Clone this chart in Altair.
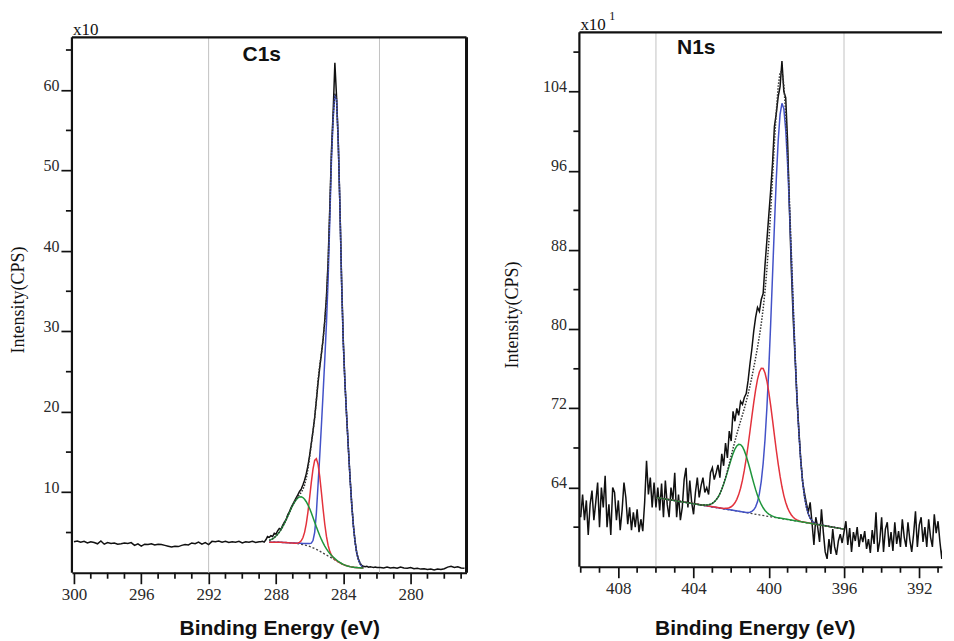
import altair as alt
import pandas as pd

SERIF = "Liberation Serif"
SANS = "Liberation Sans"


def grid(start, stop, step):
    n = int(round(abs(start - stop) / step)) + 1
    sgn = -1 if stop < start else 1
    return [round(start + sgn * i * step, 2) for i in range(n)]


# ---------------- C1s data ----------------
c1s_counts_flat = [3.85, 3.95, 3.8, 3.9, 3.7, 3.85, 3.75, 3.6, 3.95, 3.55,
                   3.75, 3.65, 3.7, 3.55, 3.6, 3.7, 3.65, 3.75, 3.4, 3.6,
                   3.3, 3.55, 3.5, 3.6, 3.45, 3.55, 3.5, 3.4, 3.3, 3.2,
                   3.3, 3.25, 3.4, 3.5, 3.45, 3.7, 3.6, 3.8, 3.55, 3.75,
                   3.5, 3.9, 3.85, 3.95, 3.8, 3.9, 3.75, 3.85, 3.8, 3.9,
                   3.7, 3.85, 3.8, 3.9, 3.75, 3.85]
c1s_counts_peak = [3.85, 3.9, 3.8, 4.1, 4.5, 4.4, 4.6, 4.5, 4.9, 4.8,
                   5.2, 5.5, 5.4, 5.9, 6.3, 6.6, 7.2, 7.6, 8.1, 8.5,
                   8.9, 9.3, 9.7, 10.1, 10.4, 10.9, 11.5, 12.3, 13.3, 14.6,
                   16.1, 17.6, 19.3, 21.4, 23.6, 25.5, 27.2, 29.0, 31.4, 34.3,
                   38.8, 45.5, 52.6, 57.4, 63.4, 59.2, 53.8, 45.6, 36.4, 28.9,
                   23.6, 19.4, 15.6, 11.9, 8.6, 5.9, 3.9, 2.5, 1.7, 1.2,
                   0.9, 0.8, 0.75, 0.8, 0.7, 0.75, 0.7, 0.65, 0.7, 0.65]
c1s_counts_tail = [0.65, 0.6, 0.7, 0.6, 0.65, 0.55, 0.7, 0.6, 0.55, 0.65,
                   0.5, 0.55, 0.45, 0.5, 0.4, 0.45, 0.35, 0.45, 0.4, 0.5,
                   0.7, 0.8, 0.65, 0.75, 0.6, 0.55]
c1s_be = grid(300.0, 289.0, 0.2) + grid(288.9, 282.0, 0.1) + grid(281.8, 276.8, 0.2)
c1s_counts = c1s_counts_flat + c1s_counts_peak + c1s_counts_tail

c1s_fit_be = grid(288.4, 282.8, 0.1)
c1s_background = [3.8, 3.8, 3.8, 3.8, 3.8, 3.79, 3.79, 3.78, 3.77, 3.76,
                  3.75, 3.74, 3.72, 3.71, 3.69, 3.67, 3.64, 3.61, 3.58, 3.54,
                  3.5, 3.45, 3.4, 3.34, 3.28, 3.2, 3.1, 3.0, 2.9, 2.8,
                  2.68, 2.56, 2.44, 2.32, 2.2, 2.08, 1.96, 1.84, 1.72, 1.6,
                  1.47, 1.35, 1.23, 1.12, 1.02, 0.94, 0.87, 0.81, 0.76, 0.72,
                  0.69, 0.66, 0.64, 0.62, 0.61, 0.6, 0.6]
c1s_peak_blue = [3.8, 3.8, 3.8, 3.8, 3.8, 3.79, 3.79, 3.78, 3.77, 3.76,
                 3.75, 3.74, 3.73, 3.72, 3.71, 3.7, 3.69, 3.68, 3.67, 3.66,
                 3.65, 3.64, 3.63, 3.62, 3.62, 3.68, 4.0, 5.0, 7.4, 10.9,
                 14.5, 18.3, 22.3, 26.5, 31.0, 36.5, 44.0, 51.5, 56.5, 59.4,
                 58.8, 53.5, 45.5, 36.0, 28.5, 23.5, 19.5, 15.5, 11.8, 8.5,
                 5.8, 3.8, 2.4, 1.6, 1.1, 0.8, 0.65]
c1s_peak_red = [3.8, 3.8, 3.8, 3.8, 3.8, 3.79, 3.79, 3.78, 3.77, 3.76,
                3.75, 3.74, 3.72, 3.71, 3.69, 3.67, 3.67, 3.69, 3.77, 3.96,
                4.35, 5.02, 6.08, 7.54, 9.34, 11.23, 12.89, 13.96, 14.19, 13.49,
                11.98, 10.01, 7.92, 6.03, 4.51, 3.4, 2.65, 2.18, 1.87, 1.66,
                1.49, 1.35, 1.23, 1.12, 1.02, 0.94, 0.87, 0.81, 0.76, 0.72,
                0.69, 0.66, 0.64, 0.62, 0.61, 0.6, 0.6]
c1s_peak_green = [4.02, 4.11, 4.22, 4.37, 4.56, 4.78, 5.05, 5.36, 5.72, 6.13,
                  6.56, 7.03, 7.49, 7.96, 8.39, 8.77, 9.07, 9.30, 9.43, 9.44,
                  9.35, 9.14, 8.83, 8.44, 7.98, 7.45, 6.87, 6.29, 5.71, 5.17,
                  4.63, 4.14, 3.70, 3.31, 2.96, 2.65, 2.38, 2.15, 1.94, 1.75,
                  1.58, 1.42, 1.28, 1.15, 1.04, 0.95, 0.87, 0.81, 0.76, 0.72,
                  0.69, 0.66, 0.64, 0.62, 0.61, 0.6, 0.6]
c1s_envelope = [4.02, 4.11, 4.22, 4.37, 4.56, 4.78, 5.05, 5.36, 5.72, 6.13,
                6.56, 7.03, 7.5, 7.97, 8.41, 8.8, 9.15, 9.45, 9.71, 9.98,
                10.35, 10.9, 11.74, 12.92, 14.38, 15.96, 17.56, 19.25, 21.5, 23.96,
                25.75, 27.33, 29.04, 31.2, 34.07, 38.39, 45.11, 52.15, 56.87, 59.61,
                58.93, 53.57, 45.55, 36.03, 28.52, 23.51, 19.5, 15.5, 11.8, 8.5,
                5.8, 3.8, 2.4, 1.6, 1.1, 0.8, 0.65]
c1s_guides = [292.0, 281.85]
c1s_x_major = [300, 296, 292, 288, 284, 280]
c1s_x_minor = [299, 298, 297, 295, 294, 293, 291, 290, 289, 287, 286, 285,
               283, 282, 281, 279, 278, 277]
c1s_y_major = [10, 20, 30, 40, 50, 60]
c1s_y_minor = [5, 15, 25, 35, 45, 55, 65]

# ---------------- N1s data ----------------
n1s_counts_left = [61.0, 63.3, 60.7, 62.7, 59.2, 62.3, 63.7, 60.7, 62.5, 64.5,
                   60.0, 64.0, 62.0, 65.2, 60.0, 62.3, 59.2, 64.0, 63.5, 60.7,
                   62.7, 59.7, 61.7, 64.5, 63.0, 60.3, 62.0, 59.7, 61.5, 60.0,
                   61.8, 59.5, 60.8, 59.6, 62.5, 66.7, 63.3, 65.0, 62.0, 64.5]
n1s_counts_mid = [62.0, 64.0, 61.7, 64.4, 61.0, 64.7, 62.3, 61.0, 64.0, 62.7,
                  65.5, 61.0, 63.3, 60.7, 62.0, 64.8, 66.0, 62.0, 64.7, 62.5,
                  61.3, 63.5, 65.0, 63.0, 64.2, 65.0, 63.5, 64.0, 63.3, 65.5,
                  66.0, 64.8]
n1s_counts_peak = [65.5, 66.3, 65.0, 67.4, 66.2, 68.5, 67.0, 69.7, 68.7,
                   71.7, 70.7, 72.0, 71.3, 72.7, 72.4, 73.1, 73.5, 74.8, 76.5,
                   78.0, 79.8, 81.2, 82.2, 81.8, 83.0, 83.6, 86.5, 89.0, 91.5,
                   94.0, 96.8, 100.5, 101.8, 103.5, 104.5, 107.1, 104.0, 103.4, 99.0,
                   92.0, 86.0, 81.0, 77.0, 72.9, 69.8, 66.8, 64.6, 63.4, 62.4,
                   61.5, 62.5, 60.4, 58.2, 61.0]
n1s_counts_right = [60.0, 58.5, 61.8, 59.5, 57.5, 56.8, 58.8, 57.3, 59.8, 58.0,
                    57.2, 58.6, 59.3, 58.4, 59.5, 60.6, 58.2, 59.9, 57.5, 59.5,
                    58.6, 60.0, 58.0, 59.3, 58.5, 59.6, 57.8, 58.8, 57.4, 59.7,
                    58.3, 61.5, 57.5, 58.6, 61.0, 57.5, 59.8, 60.5, 58.0, 59.5,
                    57.6, 60.5, 58.3, 59.6, 58.0, 60.8, 59.0, 58.0, 60.5, 58.7,
                    57.5, 59.3, 61.6, 58.0, 60.2, 61.0, 58.5, 60.0, 58.0, 60.8,
                    59.0, 58.0, 61.3, 59.4, 60.6, 58.5, 56.8, 58.8, 60.2]
n1s_be = grid(410.0, 390.6, 0.1)
n1s_counts = n1s_counts_left + n1s_counts_mid + n1s_counts_peak + n1s_counts_right

n1s_bg_be = [406.0, 396.0]
n1s_background = [63.0, 59.8]
n1s_blue_be = [406.0] + grid(401.2, 397.4, 0.1) + [396.0]
n1s_peak_blue = [63.0,
                 61.49, 61.49, 61.51, 61.59, 61.75, 62.05, 62.56, 63.38, 64.63, 66.43,
                 68.86, 72.06, 75.97, 80.52, 85.48, 90.49, 95.17, 99.04, 101.7, 102.83,
                 102.29, 100.16, 96.67, 92.2, 87.19, 82.09, 77.29, 73.04, 69.5, 66.69,
                 64.57, 63.06, 62.03, 61.34, 60.91, 60.63, 60.46, 60.35, 60.29,
                 59.8]
n1s_red_be = [406.0] + grid(402.4, 398.3, 0.1) + [396.0]
n1s_peak_red = [63.0,
                61.89, 61.9, 61.91, 61.96, 62.06, 62.22, 62.46, 62.81, 63.29, 63.93,
                64.75, 65.76, 66.93, 68.25, 69.69, 71.16, 72.59, 73.87, 74.93, 75.68,
                76.06, 76.03, 75.58, 74.77, 73.65, 72.3, 70.81, 69.27, 67.77, 66.39,
                65.15, 64.08, 63.19, 62.49, 61.95, 61.53, 61.23, 61.0, 60.84, 60.73,
                60.65, 60.58,
                59.8]
n1s_green_be = [406.0] + grid(403.6, 399.5, 0.1) + [396.0]
n1s_peak_green = [63.0,
                  62.25, 62.23, 62.23, 62.24, 62.26, 62.31, 62.41, 62.55, 62.76, 63.02,
                  63.38, 63.82, 64.34, 64.93, 65.56, 66.22, 66.85, 67.43, 67.89, 68.21,
                  68.37, 68.34, 68.12, 67.73, 67.2, 66.56, 65.87, 65.15, 64.45, 63.79,
                  63.21, 62.71, 62.29, 61.96, 61.68, 61.48, 61.32, 61.21, 61.12, 61.04,
                  60.98, 60.94,
                  59.8]
n1s_env_be = [406.0] + grid(403.6, 397.4, 0.1) + [396.0]
n1s_envelope = [63.0,
                62.25, 62.23, 62.23, 62.24, 62.26, 62.31, 62.41, 62.55, 62.76, 63.02,
                63.38, 63.82, 64.38, 65.01, 65.69, 66.43, 67.19, 67.96, 68.69, 69.4,
                70.07, 70.71, 71.34, 71.99, 72.7, 73.44, 74.27, 75.16, 76.11, 77.11,
                78.16, 79.29, 80.56, 82.06, 83.84, 86.09, 88.78, 91.93, 95.37, 98.84,
                102.02, 104.53, 105.96, 106.05, 104.66, 101.86, 97.86, 93.0, 87.72, 82.43,
                77.5, 73.17, 69.58, 66.73, 64.57, 63.06, 62.03, 61.34, 60.91, 60.63,
                60.46, 60.35, 60.29,
                59.8]
n1s_guides = [406.0, 396.0]
n1s_x_major = [408, 404, 400, 396, 392]
n1s_x_minor = [410, 409, 407, 406, 405, 403, 402, 401, 399, 398, 397, 395, 394, 393, 391]
n1s_y_major = [64, 72, 80, 88, 96, 104]
n1s_y_minor = [60, 68, 76, 84, 92, 100, 108]

assert len(c1s_be) == len(c1s_counts)
assert len(n1s_be) == len(n1s_counts)
for a, b in [(c1s_fit_be, c1s_background), (c1s_fit_be, c1s_peak_blue),
             (c1s_fit_be, c1s_peak_red), (c1s_fit_be, c1s_peak_green),
             (c1s_fit_be, c1s_envelope), (n1s_blue_be, n1s_peak_blue),
             (n1s_red_be, n1s_peak_red), (n1s_green_be, n1s_peak_green),
             (n1s_env_be, n1s_envelope)]:
    assert len(a) == len(b), (len(a), len(b))

BLUE = "#4352c8"
RED = "#e3323c"
GREEN = "#1f963c"
BLACK = "#111111"


def df(be, v):
    return pd.DataFrame({"be": be, "v": v})


def one(text):
    return pd.DataFrame({"t": [text]})


def make_panel(p):
    W, H, top = p["W"], p["H"], p["frame_top"]
    X = alt.X("be:Q",
              scale=alt.Scale(domain=p["xdom"], reverse=True, nice=False, zero=False),
              axis=alt.Axis(values=p["xmaj"], format="d", title=None, grid=False,
                            labelFont=SERIF, labelFontSize=17, labelColor="#2a2a2a",
                            tickSize=11, tickWidth=1.7, tickColor=BLACK,
                            domainColor=BLACK, domainWidth=2.2, labelPadding=3,
                            labelFlush=False, labelOverlap=False))
    Y = alt.Y("v:Q",
              scale=alt.Scale(domain=p["ydom"], nice=False, zero=False),
              axis=alt.Axis(values=p["ymaj"], title=None, grid=False, domain=False,
                            labelFont=SERIF, labelFontSize=16, labelColor="#2a2a2a",
                            labelAlign="right", labelBaseline="alphabetic",
                            tickSize=11, tickWidth=1.7, tickColor=BLACK,
                            labelPadding=2, labelFlush=False, labelOverlap=False))

    layers = []
    layers.append(alt.Chart(pd.DataFrame({"be": p["guides"]})).mark_rule(
        color="#c2c2c2", strokeWidth=1).encode(x=X, y=alt.value(top), y2=alt.value(H)))
    layers.append(alt.Chart(df(p["be"], p["counts"])).mark_line(
        color=BLACK, strokeWidth=1.5, clip=True).encode(x=X, y=Y))
    layers.append(alt.Chart(df(p["bg_be"], p["bg"])).mark_line(
        color="#444", strokeWidth=1.3, strokeDash=[2, 2], clip=True).encode(x=X, y=Y))
    for be, vals, col in p["peaks"]:
        layers.append(alt.Chart(df(be, vals)).mark_line(
            color=col, strokeWidth=1.5, clip=True).encode(x=X, y=Y))
    layers.append(alt.Chart(df(p["env_be"], p["env"])).mark_line(
        color="#333", strokeWidth=1.5, strokeDash=[1.5, 1.5], clip=True).encode(x=X, y=Y))
    # minor ticks
    layers.append(alt.Chart(pd.DataFrame({"be": p["xmin"]})).mark_rule(
        color=BLACK, strokeWidth=1.7).encode(x=X, y=alt.value(H), y2=alt.value(H + 6)))
    layers.append(alt.Chart(pd.DataFrame({"v": p["ymin"]})).mark_rule(
        color=BLACK, strokeWidth=1.7).encode(y=Y, x=alt.value(0), x2=alt.value(-6)))
    # frame
    layers.append(alt.Chart(one("")).mark_rule(color=BLACK, strokeWidth=2.2).encode(
        x=alt.value(0), x2=alt.value(W), y=alt.value(top)))
    layers.append(alt.Chart(one("")).mark_rule(color=BLACK, strokeWidth=2.2).encode(
        x=alt.value(0), y=alt.value(top), y2=alt.value(H)))
    if p["right_frame"]:
        layers.append(alt.Chart(one("")).mark_rule(color=BLACK, strokeWidth=3).encode(
            x=alt.value(W), y=alt.value(top), y2=alt.value(H)))
    # texts
    for t in p["texts"]:
        kw = dict(font=t.get("font", SERIF), fontSize=t["size"],
                  fontWeight=t.get("weight", "normal"), align=t.get("align", "center"),
                  baseline=t.get("baseline", "middle"), color=t.get("color", BLACK))
        if "angle" in t:
            kw["angle"] = t["angle"]
        layers.append(alt.Chart(one(t["text"])).mark_text(**kw).encode(
            x=alt.value(t["x"]), y=alt.value(t["y"]), text="t:N"))
    return alt.layer(*layers).properties(width=W, height=H)


W1, H1 = 395, 541
W2, H2 = 363, 535

left = make_panel(dict(
    W=W1, H=H1, frame_top=5, right_frame=True,
    xdom=[276.68, 300.12], ydom=[0, 67.2],
    xmaj=c1s_x_major, xmin=c1s_x_minor, ymaj=c1s_y_major, ymin=c1s_y_minor,
    guides=c1s_guides, be=c1s_be, counts=c1s_counts,
    bg_be=c1s_fit_be, bg=c1s_background,
    peaks=[(c1s_fit_be, c1s_peak_blue, BLUE), (c1s_fit_be, c1s_peak_red, RED),
           (c1s_fit_be, c1s_peak_green, GREEN)],
    env_be=c1s_fit_be, env=c1s_envelope,
    texts=[
        dict(text="C1s", x=190, y=23, size=21, font=SANS, weight="bold"),
        dict(text="x10", x=1, y=3, size=17, align="left", baseline="alphabetic"),
        dict(text="Intensity(CPS)", x=-53, y=268, size=18, angle=270),
        dict(text="Binding Energy (eV)", x=208, y=597, size=21, font=SANS, weight="bold"),
    ],
))

right = make_panel(dict(
    W=W2, H=H2, frame_top=0, right_frame=False,
    xdom=[390.79, 410.07], ydom=[56, 110],
    xmaj=n1s_x_major, xmin=n1s_x_minor, ymaj=n1s_y_major, ymin=n1s_y_minor,
    guides=n1s_guides, be=n1s_be, counts=n1s_counts,
    bg_be=n1s_bg_be, bg=n1s_background,
    peaks=[(n1s_blue_be, n1s_peak_blue, BLUE), (n1s_red_be, n1s_peak_red, RED),
           (n1s_green_be, n1s_peak_green, GREEN)],
    env_be=n1s_env_be, env=n1s_envelope,
    texts=[
        dict(text="N1s", x=117, y=16, size=21, font=SANS, weight="bold"),
        dict(text="x10", x=1, y=-2, size=17, align="left", baseline="alphabetic"),
        dict(text="1", x=30, y=-12, size=12, align="left", baseline="alphabetic"),
        dict(text="Intensity(CPS)", x=-66, y=283, size=18, angle=270),
        dict(text="Binding Energy (eV)", x=176, y=597, size=21, font=SANS, weight="bold"),
    ],
))

chart = alt.hconcat(left, right, spacing=113, bounds="flush").configure_view(
    stroke=None).properties(padding={"left": 2, "top": 2, "right": 2, "bottom": 0})

chart.save("out.html", embed_options={"renderer": "svg", "actions": False})
